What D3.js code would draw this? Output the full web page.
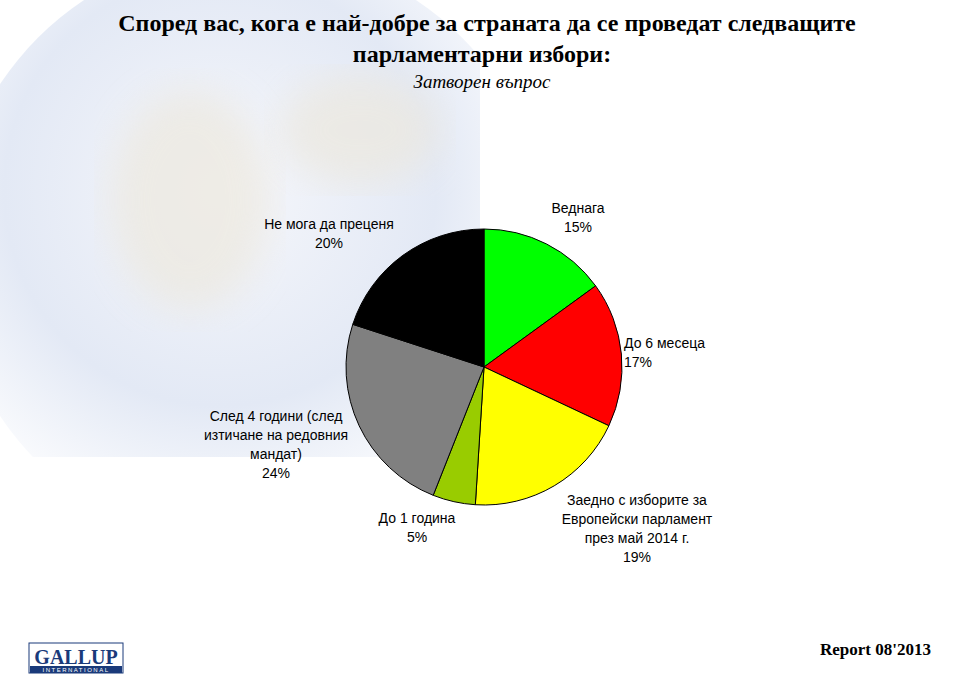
<!DOCTYPE html><html><head><meta charset="utf-8">
<script src="https://cdn.jsdelivr.net/npm/d3@7"></script>
<style>body{margin:0;background:#fff}</style></head><body>
<script>
const categories=["Веднага","До 6 месеца","Заедно с изборите за Европейски парламент през май 2014 г.","До 1 година","След 4 години (след изтичане на редовния мандат)","Не мога да преценя"];
const values=[15,17,19,5,24,20];
const colors=["#00ff00","#ff0000","#ffff00","#99cc00","#808080","#000000"];
const labelLines=[["Веднага","15%"],["До 6 месеца","17%"],["Заедно с изборите за","Европейски парламент","през май 2014 г.","19%"],["До 1 година","5%"],["След 4 години (след","изтичане на редовния","мандат)","24%"],["Не мога да преценя","20%"]];
const labelPos=[[578,213,"middle"],[624,348,"start"],[637,505,"middle"],[417,523,"middle"],[276,421,"middle"],[329,229,"middle"]];
const W=960,H=675;
const svg=d3.select("body").append("svg").attr("width",W).attr("height",H).style("font-family","Arial, 'Liberation Sans', sans-serif");
const defs=svg.append("defs");
const g=defs.append("radialGradient").attr("id","globe").attr("cx","0.45").attr("cy","0.4").attr("r","0.6");
g.append("stop").attr("offset","0").attr("stop-color","#f6f7fb");
g.append("stop").attr("offset","0.6").attr("stop-color","#e3e9f5");
g.append("stop").attr("offset","1").attr("stop-color","#ffffff");
defs.append("clipPath").attr("id","bgclip").append("rect").attr("x",0).attr("y",0).attr("width",480).attr("height",457);
const blur=defs.append("filter").attr("id","bl");blur.append("feGaussianBlur").attr("stdDeviation",18);
const bg=svg.append("g").attr("clip-path","url(#bgclip)");
bg.append("circle").attr("cx",250).attr("cy",250).attr("r",300).attr("fill","url(#globe)");
bg.append("ellipse").attr("cx",190).attr("cy",200).attr("rx",80).attr("ry",110).attr("fill","#ece8de").attr("opacity",0.7).attr("filter","url(#bl)");
bg.append("ellipse").attr("cx",360).attr("cy",130).attr("rx",80).attr("ry",55).attr("fill","#ece8de").attr("opacity",0.7).attr("filter","url(#bl)");
const t=svg.append("g").attr("font-family","'Times New Roman','Liberation Serif',serif").attr("text-anchor","middle");
t.append("text").attr("x",487).attr("y",31).attr("font-size",24).attr("font-weight","bold").text("Според вас, кога е най-добре за страната да се проведат следващите");
t.append("text").attr("x",482).attr("y",62).attr("font-size",24).attr("font-weight","bold").text("парламентарни избори:");
t.append("text").attr("x",482).attr("y",88).attr("font-size",19).attr("font-style","italic").text("Затворен въпрос");
const cx=484,cy=367,r=138;
const pie=d3.pie().sort(null).value(d=>d)(values);
const arc=d3.arc().innerRadius(0).outerRadius(r);
svg.append("g").attr("transform",`translate(${cx},${cy})`).selectAll("path").data(pie).join("path")
 .attr("d",arc).attr("fill",(d,i)=>colors[i]).attr("stroke","#000").attr("stroke-width",1);
labelLines.forEach((ls,i)=>{const [x,y,a]=labelPos[i];
 const tx=svg.append("text").attr("text-anchor",a).attr("font-size",14).attr("fill","#000");
 ls.forEach((l,j)=>tx.append("tspan").attr("x",x).attr("y",y+j*19).text(l));});
const lg=svg.append("g");
lg.append("rect").attr("x",29).attr("y",643).attr("width",94).attr("height",30).attr("fill","#fff").attr("stroke","#1a3a7a");
lg.append("text").attr("x",76).attr("y",664).attr("text-anchor","middle").attr("font-family","'Times New Roman',serif").attr("font-size",20).attr("font-weight","bold").attr("fill","#1a3a7a").text("GALLUP");
lg.append("rect").attr("x",30).attr("y",666).attr("width",92).attr("height",7).attr("fill","#1a3a7a");
lg.append("text").attr("x",76).attr("y",672).attr("text-anchor","middle").attr("font-size",6).attr("fill","#fff").attr("letter-spacing",1.5).text("INTERNATIONAL");
svg.append("text").attr("x",931).attr("y",655).attr("text-anchor","end").attr("font-family","'Times New Roman','Liberation Serif',serif").attr("font-size",17).attr("font-weight","bold").text("Report 08'2013");
</script></body></html>
